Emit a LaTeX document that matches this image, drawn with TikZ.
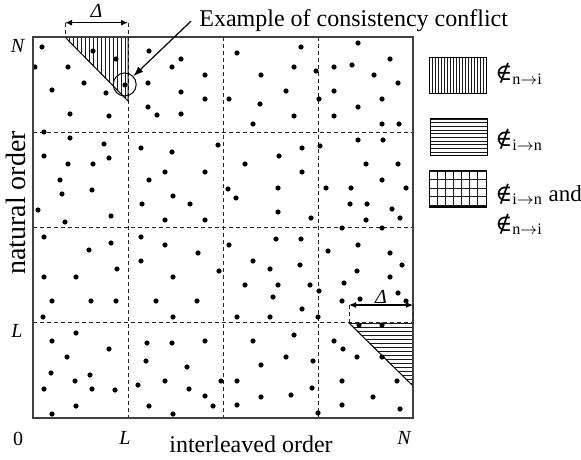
\documentclass[tikz,border=0pt]{standalone}
\usepackage{fontspec}
\setmainfont{Liberation Serif}
\newfontfamily\keyfont{DejaVu Serif}
\usetikzlibrary{arrows.meta}
\tikzset{cell/.style={dash pattern=on 2.2pt off 1.3pt,line width=0.5pt,black!85},hatch/.style={line width=0.4pt,black!90},pointer/.style={-{Latex[length=5pt,width=3.6pt]},line width=0.6pt},span/.style={{Latex[length=3.5pt,width=3pt]}-{Latex[length=3.5pt,width=3pt]},line width=0.6pt},tick/.style={font=\fontsize{10}{11}\selectfont\itshape,inner sep=0pt},caption/.style={font=\fontsize{12}{14}\selectfont,inner sep=0pt},key/.style={font=\fontsize{11.5}{13}\selectfont,inner sep=0pt,anchor=base west}}

\begin{document}
\begin{tikzpicture}[x=0.5pt,y=-0.5pt]
\useasboundingbox (0,0) rectangle (581,459);
\foreach \u in {128,223,318} \draw[cell] (\u,37) -- (\u,418);
\foreach \v in {132.25,227.5,322.75} \draw[cell] (33,\v) -- (413,\v);
\begin{scope}
\clip (65,37) -- (128,37) -- (128,101) -- cycle;
\foreach \u in {65,69,...,129} \draw[hatch] (\u,37) -- (\u,101);
\end{scope}
\draw[line width=0.5pt] (65,37) -- (128,101) -- (128,37);
\begin{scope}
\clip (349,323) -- (413,323) -- (413,386) -- cycle;
\foreach \v in {323,327,...,387} \draw[hatch] (349,\v) -- (413,\v);
\end{scope}
\draw[line width=0.5pt] (349,323) -- (413,386);
\foreach \u/\v in {42/47,93/51,116/59,35/67,68/67,84/83,52/90,106/93,125/85,70/114,109/116,
149/51,181/59,172/67,205/75,148/83,181/92,205/99,148/107,157/115,181/114,
237/53,301/47,294/67,261/75,316/71,286/91,229/99,260/104,319/99,294/116,253/124,
358/43,390/59,334/67,352/65,374/75,398/83,334/91,382/99,358/107,334/116,382/124,399/124,
44/132,70/138,104/144,44/156,68/164,93/164,109/158,60/180,92/190,62/194,38/210,111/216,65/222,
141/148,172/152,218/145,165/172,205/172,149/180,173/196,142/204,190/204,165/220,205/220,
302/148,320/146,279/156,245/164,302/172,228/189,278/188,236/198,278/212,311/218,
358/140,383/140,366/164,398/164,382/180,326/188,351/188,406/188,350/204,367/204,392/209,400/218,366/220,342/228,382/228,
44/237,89/250,111/243,44/277,76/277,117/269,52/301,91/301,116/301,43/317,
141/237,165/245,198/253,141/261,219/271,173/277,156/301,197/301,173/317,
229/245,276/239,301/239,253/261,270/269,300/265,245/285,278/285,310/285,319/291,273/297,302/309,237/317,270/317,318/317,
328/251,358/245,390/253,402/265,357/271,390/277,344/283,398/293,360/299,342/301,406/301,
76/333,52/341,109/349,67/357,51/373,90/375,75/381,44/389,92/389,115/390,76/406,52/414,
147/343,172/343,205/341,146/361,187/367,165/381,221/381,138/385,189/389,205/396,149/406,213/406,173/414,
253/341,294/335,286/357,313/361,261/365,237/381,312/388,291/395,261/397,237/405,318/413,
359/325,382/325,334/341,343/349,357/357,382/357,342/381,397/381,373/397,342/405,400/409}
  \fill (\u,\v) circle (2.6);
\draw[line width=0.6pt,black!75] (33,37) rectangle (413,418);
\coordinate (ta) at (65,22.7);
\coordinate (tb) at (128,22.7);
\coordinate (ba) at (349,305);
\coordinate (bb) at (413,305);
\draw[cell] (ta) -- (65,37);
\draw[cell] (tb) -- (128,37);
\draw[cell] (ba) -- (349,323);
\draw[cell] (bb) -- (413,323);
\draw[span] (ta) -- node[tick,above=2.5pt] (dtop) {Δ} (tb);
\draw[span] (ba) -- node[tick,above=0.5pt] (dbot) {Δ} (bb);
\node[draw,circle,line width=0.5pt,minimum size=11.5pt,inner sep=0pt] (ring) at (124.7,84.5) {};
\node[caption,anchor=base west,inner sep=4pt] (example) at (191,27) {Example of consistency conflict};
\draw[pointer] (example.west) -- (ring);
\node[tick] (ntop) at (17.5,46) {N};
\node[tick] (lleft) at (17,330.5) {L};
\node[tick,font=\fontsize{10}{11}\selectfont] (origin) at (18,439) {0};
\node[tick] (lbot) at (125,438) {L};
\node[tick] (nbot) at (404,438) {N};
\node[caption,anchor=base] (xaxis) at (251,452) {interleaved order};
\node[caption,font=\fontsize{14}{16}\selectfont,rotate=90] (yaxis) at (16,203) {natural order};
\begin{scope}
\clip (429,58) rectangle (486,94);
\foreach \u in {429,432,...,487} \draw[hatch] (\u,58) -- (\u,94);
\end{scope}
\draw[line width=0.5pt] (429,58) rectangle (486,94);
\begin{scope}
\clip (430,119) rectangle (487,156);
\foreach \v in {119,122.7,...,157} \draw[hatch] (430,\v) -- (487,\v);
\end{scope}
\draw[line width=0.5pt] (430,119) rectangle (487,156);
\foreach \u in {429,437.14,...,487} \draw[hatch] (\u,171) -- (\u,207);
\foreach \v in {171,179.6,...,207} \draw[hatch] (429,\v) -- (486,\v);
\draw[line width=0.5pt] (429,171) rectangle (486,207);
\node[key] (vkey) at (495,81) {{\keyfont ∉}${}_{\mathrm{n}\rightarrow\mathrm{i}}$};
\node[key] (hkey) at (495,147) {{\keyfont ∉}${}_{\mathrm{i}\rightarrow\mathrm{n}}$};
\node[key] (gkey) at (495,201) {{\keyfont ∉}${}_{\mathrm{i}\rightarrow\mathrm{n}}$ and};
\node[key] (gkeyb) at (495,231) {{\keyfont ∉}${}_{\mathrm{n}\rightarrow\mathrm{i}}$};
\end{tikzpicture}
\end{document}
